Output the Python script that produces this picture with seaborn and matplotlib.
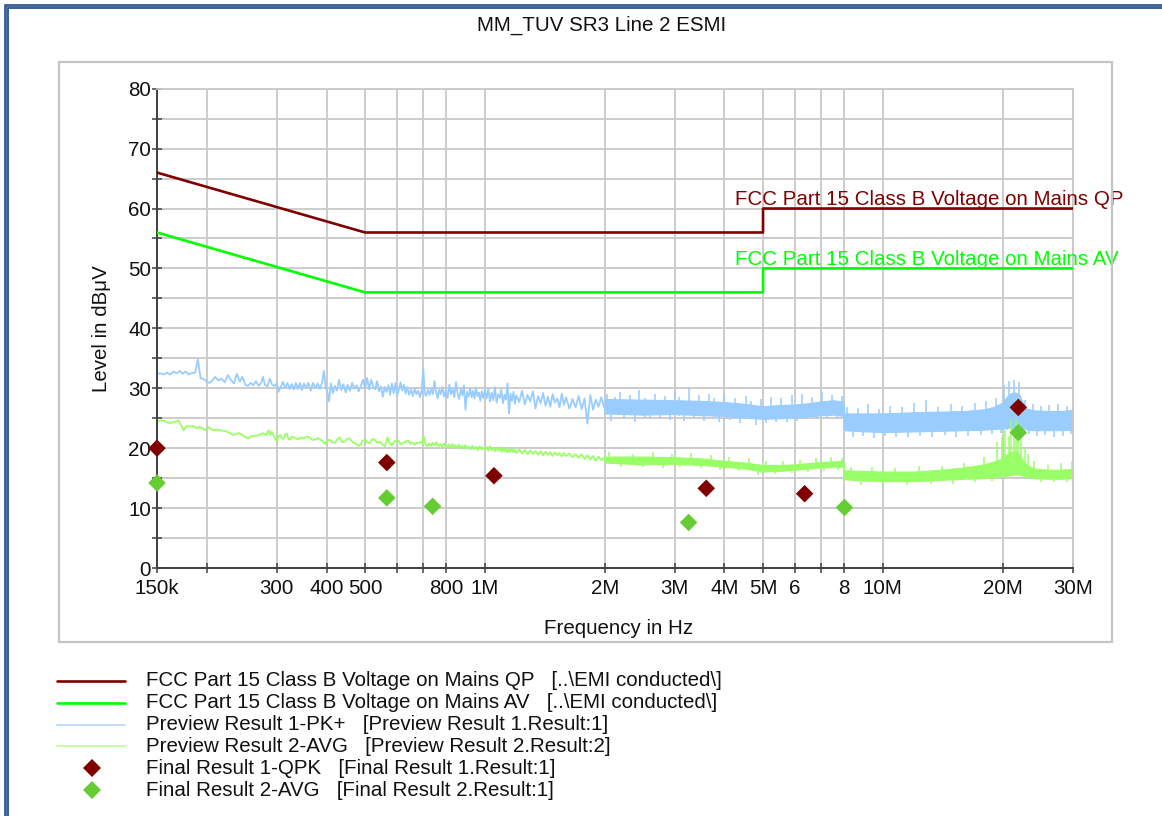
import numpy as np
import pandas as pd
import matplotlib
matplotlib.use("Agg")
import matplotlib.pyplot as plt
import seaborn as sns
from matplotlib.lines import Line2D
from matplotlib.patches import Rectangle

# ---------------- data (frequency in MHz, level in dBuV) ----------------
title = "MM_TUV SR3 Line 2 ESMI"

qp_limit_f = [0.15, 0.5, 5.0, 5.0, 30.0]
qp_limit_l = [66.0, 56.0, 56.0, 60.0, 60.0]
av_limit_f = [0.15, 0.5, 5.0, 5.0, 30.0]
av_limit_l = [56.0, 46.0, 46.0, 50.0, 50.0]

# Preview Result 1-PK+ (readable part of the trace)
pk_f = [0.150, 0.153, 0.156, 0.159, 0.162, 0.165, 0.168, 0.171, 0.174, 0.177, 0.180, 0.183,
        0.187, 0.190, 0.193, 0.197, 0.200, 0.203, 0.206, 0.210, 0.214, 0.218, 0.222, 0.226,
        0.230, 0.234, 0.238, 0.242, 0.246, 0.250, 0.254, 0.258, 0.262, 0.266, 0.270, 0.274,
        0.277, 0.280, 0.284, 0.288, 0.292, 0.296, 0.300, 0.303, 0.307, 0.311, 0.315, 0.319,
        0.323, 0.327, 0.331, 0.335, 0.339, 0.343, 0.347, 0.351, 0.355, 0.360, 0.365, 0.370,
        0.375, 0.380, 0.385, 0.390, 0.394, 0.398, 0.402, 0.406, 0.410, 0.415, 0.420, 0.425,
        0.430, 0.436, 0.441, 0.447, 0.452, 0.458, 0.464, 0.470, 0.476, 0.482, 0.488, 0.494,
        0.500, 0.506, 0.512, 0.518, 0.524, 0.530, 0.536, 0.542, 0.548, 0.554, 0.560, 0.566,
        0.572, 0.578, 0.584, 0.590, 0.596, 0.602, 0.608, 0.614, 0.620, 0.626, 0.632, 0.638,
        0.645, 0.652, 0.659, 0.666, 0.673, 0.680, 0.687, 0.694, 0.700, 0.706, 0.712, 0.719,
        0.726, 0.733, 0.740, 0.747, 0.754, 0.761, 0.768, 0.775, 0.782, 0.790, 0.798, 0.806,
        0.814, 0.822, 0.830, 0.838, 0.846, 0.854, 0.862, 0.870, 0.878, 0.886, 0.894, 0.902,
        0.910, 0.918, 0.926, 0.934, 0.942, 0.950, 0.958, 0.966, 0.974, 0.982, 0.990, 1.000,
        1.01, 1.02, 1.03, 1.04, 1.05, 1.06, 1.07, 1.08, 1.09, 1.10, 1.11, 1.12, 1.13, 1.14,
        1.15, 1.16, 1.17, 1.18, 1.19, 1.20, 1.22, 1.24, 1.26, 1.28, 1.30, 1.32, 1.34, 1.36,
        1.38, 1.40, 1.42, 1.44, 1.46, 1.48, 1.50, 1.52, 1.54, 1.56, 1.58, 1.60, 1.63, 1.66,
        1.69, 1.72, 1.75, 1.78, 1.81, 1.84, 1.87, 1.90, 1.93, 1.96, 2.00]
pk_l = [32.4, 32.5, 32.3, 32.6, 32.3, 32.8, 32.5, 32.9, 32.4, 32.8, 32.3, 32.5,
        32.6, 34.8, 31.7, 31.5, 31.1, 30.9, 31.2, 31.9, 31.3, 31.6, 31.0, 32.2,
        31.4, 30.8, 32.4, 31.1, 31.9, 30.6, 30.4, 30.9, 30.5, 31.2, 30.4, 30.9,
        31.9, 30.6, 30.3, 31.6, 30.6, 30.4, 30.8, 29.4, 30.2, 31.1, 30.0, 30.9,
        29.9, 30.7, 29.8, 30.9, 29.9, 30.9, 29.7, 30.8, 30.1, 30.9, 29.6, 30.9,
        30.0, 30.8, 29.9, 31.0, 32.9, 30.2, 29.4, 27.8, 30.8, 29.2, 30.4, 29.6,
        31.4, 29.7, 30.7, 29.3, 30.6, 29.6, 30.9, 29.9, 30.5, 29.5, 30.4, 31.4,
        30.0, 31.7, 29.8, 31.4, 30.3, 29.8, 31.2, 29.5, 30.3, 28.6, 30.2, 29.4,
        30.5, 28.9, 30.8, 29.2, 30.9, 28.8, 29.8, 31.0, 29.6, 30.6, 29.1, 30.2,
        28.9, 29.8, 28.7, 29.9, 29.0, 29.6, 28.5, 29.7, 33.3, 29.2, 28.7, 29.8,
        28.9, 29.9, 29.0, 31.2, 29.4, 28.3, 29.8, 29.0, 30.2, 28.6, 29.7, 28.4,
        30.6, 29.0, 29.9, 28.5, 31.0, 29.1, 28.2, 29.9, 28.8, 30.5, 26.4, 29.4,
        28.6, 30.0, 28.5, 29.6, 28.3, 30.1, 28.7, 29.3, 27.9, 29.5, 28.4, 29.7,
        28.3, 29.9, 27.8, 29.3, 28.0, 30.2, 27.6, 29.0, 28.4, 29.8, 27.5, 28.9, 28.1, 30.8,
        25.8, 29.1, 27.9, 29.4, 27.4, 28.8, 27.7, 29.6, 27.3, 28.9, 27.8, 29.5, 26.6, 28.7,
        27.5, 29.2, 27.1, 28.6, 26.9, 29.0, 27.6, 28.3, 26.8, 29.1, 27.2, 28.5, 26.6, 28.2,
        26.8, 28.7, 26.5, 28.3, 24.1, 28.9, 26.4, 28.1, 26.9, 28.5, 26.6]

# Preview Result 1-PK+ (dense part, lower / upper envelope of the solid core)
pk_band_f = [2.0, 2.5, 3.0, 3.5, 4.0, 4.5, 5.0, 5.5, 6.0, 6.5, 7.0, 7.5, 7.95, 8.0,
             9.0, 10.0, 12.0, 14.0, 16.0, 18.0, 19.0, 20.0, 20.5, 21.0, 21.5, 22.0, 22.5,
             23.0, 24.0, 26.0, 28.0, 30.0]
pk_band_lo = [25.8, 25.6, 25.7, 25.5, 25.4, 25.1, 24.9, 25.0, 25.1, 25.3, 25.5, 25.6, 25.4, 23.0,
              22.8, 22.7, 22.8, 22.9, 23.0, 23.1, 23.2, 23.3, 23.4, 23.5, 23.5, 23.6, 23.4,
              23.1, 23.0, 23.0, 23.0, 23.1]
pk_band_hi = [28.2, 28.1, 28.0, 27.9, 27.7, 27.4, 27.0, 27.2, 27.3, 27.5, 27.8, 28.0, 27.8, 25.8,
              25.8, 25.8, 26.0, 26.1, 26.2, 26.5, 26.9, 27.6, 28.6, 29.2, 29.3, 29.0, 27.6,
              26.6, 26.3, 26.2, 26.2, 26.4]
# Preview Result 1-PK+ (individual spikes sticking out of the core: freq, bottom, top)
pk_spk_f = [2.03, 2.08, 2.12, 2.18, 2.24, 2.31, 2.38, 2.44, 2.52, 2.60, 2.67, 2.75, 2.83,
            2.92, 3.00, 3.08, 3.17, 3.26, 3.35, 3.45, 3.55, 3.66, 3.77, 3.88, 4.00, 4.12,
            4.25, 4.38, 4.52, 4.66, 4.80, 4.95, 5.10, 5.25, 5.40, 5.56, 5.73, 5.90, 6.08,
            6.26, 6.45, 6.64, 6.84, 7.04, 7.25, 7.46, 7.68, 7.88,
            8.15, 8.40, 8.65, 8.90, 9.20, 9.50, 9.80, 10.1, 10.45, 10.8, 11.2, 11.6, 12.0,
            12.4, 12.85, 13.3, 13.8, 14.3, 14.8, 15.3, 15.85, 16.4, 17.0, 17.6, 18.2, 18.8,
            19.3, 19.8, 20.2, 20.5, 20.8, 21.1, 21.4, 21.7, 22.0, 22.4, 22.8, 23.3, 23.8,
            24.4, 25.0, 25.6, 26.2, 26.9, 27.6, 28.3, 29.0, 29.7]
pk_spk_lo = [26.0, 24.6, 26.5, 25.5, 24.9, 26.2, 24.3, 26.0, 25.2, 24.8, 26.5, 25.0, 26.3,
             24.7, 26.0, 25.4, 24.5, 26.1, 25.0, 26.2, 24.6, 26.0, 25.2, 24.3, 26.0, 24.7,
             25.8, 24.2, 25.7, 25.0, 23.9, 25.5, 24.2, 25.7, 24.4, 25.8, 24.3, 25.9, 24.6,
             26.0, 24.8, 26.2, 24.9, 26.3, 25.0, 26.4, 24.9, 26.2,
             23.5, 21.9, 23.8, 22.0, 23.6, 21.7, 23.9, 22.1, 23.7, 21.8, 24.0, 21.9, 23.8,
             22.0, 24.1, 21.9, 23.9, 22.2, 24.0, 21.8, 24.1, 22.1, 24.2, 22.2, 24.4, 22.3,
             24.6, 22.5, 26.0, 23.0, 27.0, 23.1, 27.5, 23.0, 26.8, 22.8, 25.5, 22.3, 24.2,
             22.0, 24.1, 22.2, 24.0, 21.9, 24.1, 22.1, 24.0, 22.3]
pk_spk_hi = [29.1, 26.5, 28.6, 29.4, 26.8, 28.9, 26.0, 29.7, 28.4, 26.4, 29.0, 26.3, 28.7,
             26.1, 29.6, 28.5, 26.2, 30.2, 26.6, 28.8, 26.0, 29.1, 28.3, 26.0, 28.9, 26.1,
             28.4, 25.8, 28.7, 27.9, 25.7, 28.2, 25.6, 28.6, 25.8, 28.3, 26.0, 28.8, 26.1,
             29.1, 26.2, 28.6, 26.4, 29.3, 26.5, 28.9, 26.3, 28.7,
             26.9, 23.6, 26.7, 23.4, 27.3, 23.2, 26.6, 23.5, 27.0, 23.3, 26.8, 23.4, 27.5,
             23.4, 28.0, 23.5, 26.9, 23.6, 27.4, 23.5, 27.1, 23.6, 27.6, 23.7, 27.9, 23.8,
             28.4, 24.0, 30.5, 25.0, 31.2, 25.0, 31.4, 25.2, 31.0, 24.5, 28.0, 23.8, 27.3,
             23.6, 27.0, 23.5, 27.2, 23.5, 27.4, 23.6, 27.1, 23.7]

# Preview Result 2-AVG (readable part of the trace)
avg_f = [0.150, 0.153, 0.156, 0.159, 0.162, 0.166, 0.170, 0.175, 0.178, 0.182, 0.185, 0.189,
         0.192, 0.195, 0.198, 0.202, 0.205, 0.208, 0.212, 0.216, 0.220, 0.224, 0.229, 0.233,
         0.237, 0.242, 0.248, 0.254, 0.258, 0.262, 0.268, 0.272, 0.277, 0.282, 0.286, 0.289,
         0.291, 0.295, 0.300, 0.303, 0.306, 0.309, 0.312, 0.315, 0.318, 0.321, 0.324, 0.327,
         0.330, 0.335, 0.340, 0.345, 0.350, 0.356, 0.363, 0.368, 0.374, 0.380, 0.385, 0.391,
         0.396, 0.402, 0.408, 0.414, 0.420, 0.426, 0.432, 0.438, 0.445, 0.451, 0.458, 0.465,
         0.472, 0.478, 0.485, 0.492, 0.500, 0.507, 0.514, 0.521, 0.529, 0.537, 0.545, 0.553,
         0.561, 0.569, 0.576, 0.583, 0.594, 0.606, 0.614, 0.623, 0.632, 0.642, 0.650, 0.658,
         0.666, 0.674, 0.682, 0.690, 0.697, 0.703, 0.709, 0.716, 0.724, 0.732, 0.740, 0.748,
         0.756, 0.764, 0.772, 0.780, 0.788, 0.796, 0.804, 0.812, 0.820, 0.828, 0.836, 0.844,
         0.852, 0.860, 0.868, 0.876, 0.884, 0.892, 0.900, 0.910, 0.920, 0.930, 0.940, 0.950,
         0.960, 0.970, 0.980, 0.990, 1.000,
         1.01, 1.02, 1.03, 1.04, 1.05, 1.06, 1.07, 1.08, 1.09, 1.10, 1.11, 1.12, 1.13, 1.14,
         1.15, 1.16, 1.17, 1.18, 1.19, 1.20, 1.22, 1.24, 1.26, 1.28, 1.30, 1.32, 1.34, 1.36,
         1.38, 1.40, 1.42, 1.44, 1.46, 1.48, 1.50, 1.52, 1.54, 1.56, 1.58, 1.60, 1.63, 1.66,
         1.69, 1.72, 1.75, 1.78, 1.81, 1.84, 1.87, 1.90, 1.93, 1.96, 2.00]
avg_l = [24.4, 24.6, 24.6, 24.3, 24.2, 24.4, 24.6, 23.0, 23.7, 23.6, 23.7, 23.3,
         23.6, 23.3, 23.0, 23.5, 23.2, 23.0, 23.1, 23.0, 22.9, 22.8, 22.5, 22.2,
         22.4, 22.5, 22.0, 21.6, 22.0, 22.0, 22.1, 22.3, 22.5, 22.2, 23.0, 22.2,
         22.8, 22.0, 21.1, 22.0, 22.2, 21.6, 21.6, 22.3, 22.4, 21.5, 21.4, 21.9,
         21.9, 21.6, 21.5, 21.8, 21.6, 21.9, 21.8, 21.4, 21.4, 21.7, 21.5, 21.2,
         20.7, 21.3, 21.4, 21.0, 20.9, 21.5, 21.8, 21.0, 21.1, 21.6, 21.6, 21.0,
         20.8, 20.5, 20.4, 21.2, 21.4, 20.9, 20.8, 21.5, 21.4, 20.9, 21.1, 20.6,
         20.3, 21.8, 20.8, 20.5, 21.2, 21.3, 20.7, 20.8, 21.1, 21.3, 20.7, 21.0,
         20.6, 20.9, 20.8, 21.1, 20.9, 22.0, 20.6, 20.3, 20.8, 20.4, 20.9, 20.5,
         21.0, 20.3, 20.7, 20.2, 20.8, 20.4, 20.1, 20.6, 20.2, 20.7, 20.1, 20.5,
         20.0, 20.6, 20.1, 20.4, 19.9, 20.5, 20.0, 20.3, 19.8, 20.4, 19.9, 20.2,
         19.7, 20.3, 19.8, 20.1, 19.7,
         20.2, 19.6, 20.3, 19.7, 20.0, 19.5, 20.1, 19.6, 20.0, 19.4, 19.9, 19.5, 20.0, 19.3,
         19.8, 19.4, 20.0, 19.3, 19.7, 19.2, 19.8, 19.1, 19.7, 19.0, 19.6, 19.1, 19.5, 18.9,
         19.5, 18.8, 19.4, 18.9, 19.3, 18.7, 19.3, 18.8, 19.2, 18.6, 19.2, 18.7, 19.1, 18.5,
         19.0, 18.4, 19.0, 18.2, 18.8, 18.1, 18.7, 17.9, 18.6, 18.0, 18.5]

# Preview Result 2-AVG (dense part, lower / upper envelope of the solid core)
avg_band_f = [2.0, 2.5, 3.0, 3.5, 4.0, 4.5, 5.0, 5.5, 6.0, 6.5, 7.0, 7.5, 7.95, 8.0,
              9.0, 10.0, 12.0, 14.0, 16.0, 18.0, 19.0, 20.0, 20.5, 21.0, 21.5, 22.0, 22.5,
              23.0, 24.0, 26.0, 28.0, 30.0]
avg_band_lo = [17.6, 17.3, 17.4, 17.2, 16.9, 16.6, 16.1, 16.2, 16.4, 16.6, 16.8, 16.9, 16.9, 14.8,
               14.6, 14.5, 14.5, 14.7, 14.9, 15.0, 15.2, 15.3, 15.4, 15.5, 15.6, 15.6, 15.4,
               15.2, 15.0, 14.9, 14.9, 15.0]
avg_band_hi = [18.6, 18.6, 18.5, 18.3, 17.9, 17.6, 17.2, 17.2, 17.3, 17.5, 17.7, 17.8, 17.9, 16.3,
               16.2, 16.1, 16.1, 16.4, 16.8, 17.3, 17.8, 18.3, 19.0, 19.4, 19.4, 19.0, 18.0,
               17.2, 16.6, 16.4, 16.4, 16.6]
# Preview Result 2-AVG (individual spikes: freq, bottom, top)
avg_spk_f = [2.05, 2.2, 2.35, 2.5, 2.65, 2.8, 2.95, 3.1, 3.3, 3.5, 3.7, 3.9, 4.1, 4.35,
             4.6, 4.85, 5.1, 5.35, 5.6, 5.9, 6.2, 6.5, 6.8, 7.1, 7.4, 7.7, 7.9,
             8.3, 8.8, 9.4, 10.0, 10.7, 11.5, 12.3, 13.2, 14.1, 15.0, 16.0, 17.0, 18.0,
             18.8, 19.4, 19.9, 20.3, 20.7, 21.0, 21.3, 21.6, 21.9, 22.3, 22.7, 23.2, 24.0,
             25.0, 26.0, 27.0, 28.0, 29.0, 29.8]
avg_spk_lo = [18.0, 16.8, 18.1, 16.9, 18.0, 16.7, 18.0, 16.9, 17.9, 16.7, 17.8, 16.4, 17.5, 16.2,
              17.2, 15.6, 16.8, 15.7, 16.8, 15.8, 17.0, 16.0, 17.2, 16.2, 17.4, 16.3, 17.4,
              15.5, 13.9, 15.5, 13.9, 15.4, 13.8, 15.5, 14.0, 15.7, 14.1, 15.9, 14.3, 16.3,
              14.5, 17.0, 17.5, 18.0, 17.8, 18.5, 18.2, 18.5, 18.0, 17.5, 16.5, 16.0, 15.5,
              14.4, 15.6, 14.3, 15.6, 14.4, 15.7]
avg_spk_hi = [19.3, 17.7, 19.1, 17.6, 19.4, 17.6, 19.0, 17.7, 19.2, 17.5, 18.9, 17.3, 18.6, 17.0,
              18.3, 16.5, 17.9, 16.6, 17.8, 16.8, 18.0, 16.9, 18.3, 17.1, 18.5, 17.2, 18.4,
              16.9, 14.9, 16.8, 14.8, 16.7, 14.8, 17.0, 14.9, 17.1, 15.1, 17.6, 15.2, 18.6,
              15.4, 21.0, 21.9, 23.0, 22.0, 24.7, 23.5, 24.8, 24.2, 22.5, 20.0, 19.1, 17.9,
              15.2, 17.2, 15.1, 17.5, 15.1, 17.8]

# Final results
qpk_f = [0.150, 0.567, 1.054, 3.60, 6.36, 21.9]
qpk_l = [20.0, 17.6, 15.4, 13.3, 12.4, 26.8]
favg_f = [0.150, 0.567, 0.739, 3.25, 8.01, 21.9]
favg_l = [14.2, 11.7, 10.3, 7.6, 10.1, 22.6]

xtick_vals = [0.15, 0.2, 0.3, 0.4, 0.5, 0.6, 0.7, 0.8, 1, 2, 3, 4, 5, 6, 7, 8, 10, 20, 30]
xtick_lbls = ['150k', '', '300', '400', '500', '', '', '800', '1M', '2M', '3M', '4M', '5M',
              '6', '', '8', '10M', '20M', '30M']
ytick_vals = list(range(0, 81, 5))
ytick_lbls = [str(v) if v % 10 == 0 else '' for v in ytick_vals]

legend_labels = [
    "FCC Part 15 Class B Voltage on Mains QP   [..\\EMI conducted\\]",
    "FCC Part 15 Class B Voltage on Mains AV   [..\\EMI conducted\\]",
    "Preview Result 1-PK+   [Preview Result 1.Result:1]",
    "Preview Result 2-AVG   [Preview Result 2.Result:2]",
    "Final Result 1-QPK   [Final Result 1.Result:1]",
    "Final Result 2-AVG   [Final Result 2.Result:1]",
]

# ---------------- style ----------------
C_QP = '#800000'
C_AV = '#00ff00'
C_PK = '#99ccff'
C_PAVG = '#99ff66'
C_FAVG = '#66cc33'
GRID = '#c8c8c8'
AXC = '#404040'
FS = 14.8

sns.set_theme(style='white')
plt.rcParams['font.family'] = ['Liberation Sans', 'DejaVu Sans']

W, H = 1162, 816
fig = plt.figure(figsize=(W / 100, H / 100), dpi=100)
fig.patch.set_facecolor('white')

def fx(px):
    return px / W

def fy(py):
    return 1 - py / H

# outer blue border (top and left)
for off, lw in [(4.5, 2.0), (7.5, 1.4)]:
    fig.add_artist(Line2D([fx(off), 1.0], [fy(off), fy(off)], color='#3a5f9a', lw=lw,
                          transform=fig.transFigure))
    fig.add_artist(Line2D([fx(off), fx(off)], [fy(off), 0.0], color='#3a5f9a', lw=lw,
                          transform=fig.transFigure))

# gray frame around chart area
fig.add_artist(Rectangle((fx(59), fy(641.7)), fx(1112) - fx(59), fy(62) - fy(641.7),
                         transform=fig.transFigure, fill=False, edgecolor='#c4c4c4', lw=1.6))

ax = fig.add_axes([fx(157), fy(568), fx(1072.7) - fx(157), fy(88.7) - fy(568)])
ax.set_facecolor('white')
ax.set_xscale('log')
ax.set_xlim(0.15, 30)
ax.set_ylim(0, 80)

# preview traces
ax.fill_between(pk_band_f, pk_band_lo, pk_band_hi, color=C_PK, lw=0.8, edgecolor=C_PK, zorder=2)
ax.vlines(pk_spk_f, pk_spk_lo, pk_spk_hi, color=C_PK, lw=1.1, zorder=2)
ax.fill_between(avg_band_f, avg_band_lo, avg_band_hi, color=C_PAVG, lw=0.8, edgecolor=C_PAVG, zorder=2)
ax.vlines(avg_spk_f, avg_spk_lo, avg_spk_hi, color=C_PAVG, lw=1.1, zorder=2)
sns.lineplot(x=pk_f, y=pk_l, estimator=None, sort=False, color=C_PK, lw=1.3, ax=ax, zorder=2)
sns.lineplot(x=avg_f, y=avg_l, estimator=None, sort=False, color=C_PAVG, lw=1.3, ax=ax, zorder=2)

# limit lines
sns.lineplot(x=qp_limit_f, y=qp_limit_l, estimator=None, sort=False, color=C_QP, lw=1.9, ax=ax, zorder=3)
sns.lineplot(x=av_limit_f, y=av_limit_l, estimator=None, sort=False, color=C_AV, lw=1.9, ax=ax, zorder=3)

# final results
sns.scatterplot(x=qpk_f, y=qpk_l, marker='D', s=80, color=C_QP, edgecolor='none', ax=ax,
                zorder=5, clip_on=False)
sns.scatterplot(x=favg_f, y=favg_l, marker='D', s=80, color=C_FAVG, edgecolor='none', ax=ax,
                zorder=5, clip_on=False)

# limit labels
ax.text(4.25, 60.55, "FCC Part 15 Class B Voltage on Mains QP", color=C_QP, fontsize=FS,
        ha='left', va='baseline', clip_on=False, zorder=6)
ax.text(4.25, 50.55, "FCC Part 15 Class B Voltage on Mains AV", color=C_AV, fontsize=FS,
        ha='left', va='baseline', clip_on=False, zorder=6)

# axes styling
ax.set_xticks(xtick_vals)
ax.set_xticklabels(xtick_lbls)
ax.xaxis.set_minor_locator(matplotlib.ticker.NullLocator())
ax.set_yticks(ytick_vals)
ax.set_yticklabels(ytick_lbls)
ax.grid(True, which='major', color=GRID, lw=1.3)
ax.set_axisbelow(True)
ax.tick_params(axis='both', which='major', direction='inout', length=7.5, width=1.1,
               color=AXC, labelcolor='#111111', labelsize=FS)
ax.tick_params(axis='y', pad=0.5)
ax.tick_params(axis='x', pad=4.0)
ax.tick_params(axis='both', left=True, bottom=True, top=False, right=False)
for s in ['left', 'bottom']:
    ax.spines[s].set_color(AXC)
    ax.spines[s].set_linewidth(1.4)
for s in ['top', 'right']:
    ax.spines[s].set_color(GRID)
    ax.spines[s].set_linewidth(1.3)
ax.set_xlabel('')
ax.set_ylabel('')

# titles
fig.text(fx(601.7), fy(25), title, ha='center', va='center', fontsize=FS, color='#111111')
fig.text(fx(619), fy(628), 'Frequency in Hz', ha='center', va='center', fontsize=FS, color='#111111')
fig.text(fx(101.5), fy(329), 'Level in dBμV', ha='center', va='center', rotation=90,
         fontsize=FS, color='#111111')

# legend
rows_y = [681, 702.8, 724.6, 746.4, 768.2, 790]
handles = [('line', C_QP, 1.9), ('line', C_AV, 1.9), ('line', '#bcdcff', 1.4),
           ('line', '#c4ff9c', 1.4), ('marker', C_QP, None), ('marker', C_FAVG, None)]
for (kind, col, lw), yy, lab in zip(handles, rows_y, legend_labels):
    if kind == 'line':
        fig.add_artist(Line2D([fx(57), fx(125)], [fy(yy), fy(yy)], color=col, lw=lw,
                              transform=fig.transFigure))
    else:
        fig.add_artist(Line2D([fx(92)], [fy(yy)], color=col, marker='D', markersize=8.8,
                              markeredgewidth=0, linestyle='none', transform=fig.transFigure))
    fig.text(fx(146), fy(yy), lab, ha='left', va='center', fontsize=FS, color='#111111')

fig.savefig('out.png', dpi=100, facecolor='white')
